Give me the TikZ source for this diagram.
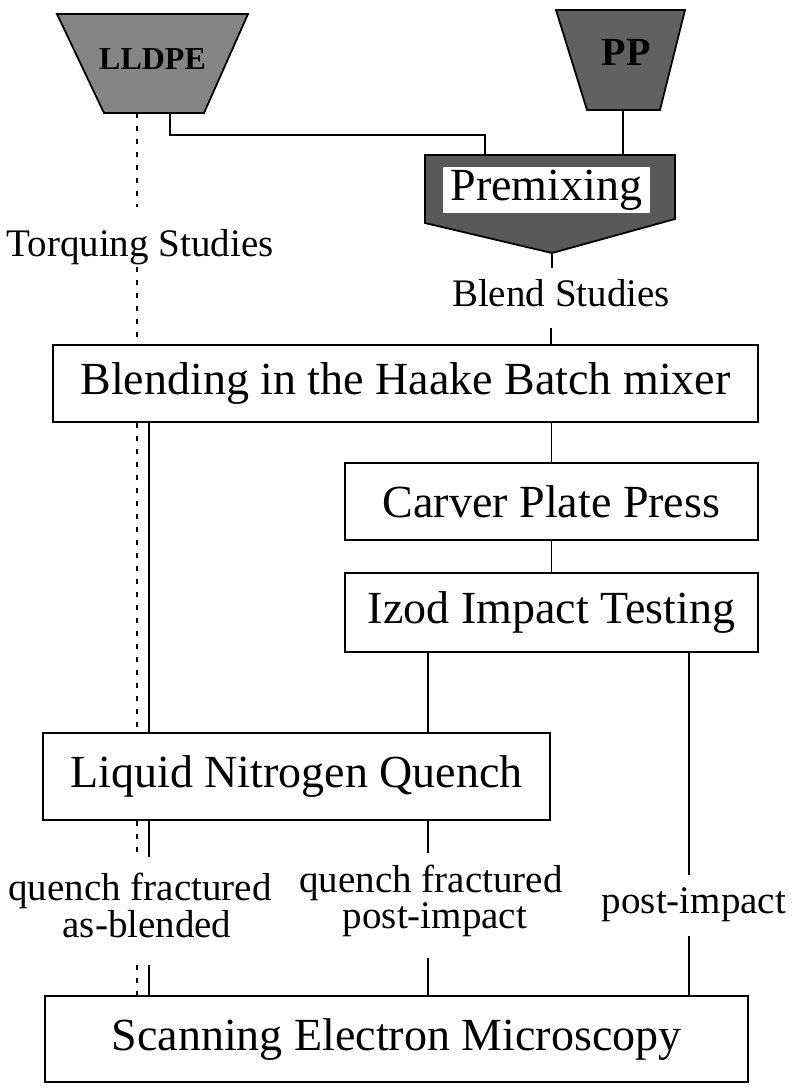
\documentclass[tikz,border=0pt]{standalone}
\usepackage{fontspec}
\setmainfont{Liberation Serif}
\begin{document}
\begin{tikzpicture}[x=1pt,y=-1pt,
  box/.style={draw, line width=1.8pt, fill=white, inner sep=0pt, font=\fontsize{46}{50}\selectfont},
  lab/.style={anchor=base, inner sep=0pt, font=\fontsize{39}{42}\selectfont},
  conn/.style={line width=1.7pt},
  dashconn/.style={line width=1.8pt, dash pattern=on 5pt off 8pt},
  hopper/.style={draw, line width=1.8pt, line join=miter}]
\useasboundingbox (0,0) rectangle (795,1088);
% feed hoppers
\path[hopper, fill=black!48] (57,14) -- (248,14) -- (204,113) -- (104,113) -- cycle;
\node[anchor=base, inner sep=0pt, font=\bfseries\fontsize{32}{34}\selectfont] (lldpe) at (152.5,69) {LLDPE};
\path[hopper, fill=black!62] (556,10) -- (685,10) -- (660,110) -- (587,110) -- cycle;
\node[anchor=base, inner sep=0pt, font=\bfseries\fontsize{40}{42}\selectfont] (pp) at (626,65) {PP};
% premixing
\path[hopper, fill=black!65] (425,155) -- (675,155) -- (675,219) -- (552,253) -- (425,223) -- cycle;
\node[fill=white, inner sep=0pt, minimum width=207pt, minimum height=46pt, font=\fontsize{46}{50}\selectfont] (premix) at (546.5,190) {Premixing};
% labels
\node[lab] (torq) at (140,256) {Torquing Studies};
\node[lab] (bstud) at (561,306) {Blend Studies};
\node[lab] (qf1) at (140,900) {quench fractured};
\node[lab] (asb) at (147,937) {as-blended};
\node[lab] (qf2) at (431,892) {quench fractured};
\node[lab] (pi2) at (435,928) {post-impact};
\node[lab] (pi3) at (694,913) {post-impact};
% boxes
\node[box, minimum width=705pt, minimum height=77pt] (blend) at (405.5,383.5) {Blending in the Haake Batch mixer};
\node[box, minimum width=413pt, minimum height=77pt] (carver) at (551.5,501.5) {Carver Plate Press};
\node[box, minimum width=413pt, minimum height=79pt] (izod) at (551.5,612.5) {Izod Impact Testing};
\node[box, minimum width=507pt, minimum height=87pt] (lnq) at (296.5,776.5) {Liquid Nitrogen Quench};
\node[box, minimum width=703pt, minimum height=86pt] (sem) at (396.5,1039) {Scanning Electron Microscopy};
% connector end points
\coordinate (lldpeout) at (170,113);
\coordinate (pmin1) at (485,155);
\coordinate (ppout) at (623,110);
\coordinate (pmin2) at (623,155);
\coordinate (pmtip) at (552,253);
\coordinate (pmtipend) at (552,268);
\coordinate (bsin) at (551,328);
\coordinate (s1) at (149,857);
\coordinate (s2) at (149,965);
\coordinate (m1) at (428,853);
\coordinate (m2) at (428,958);
\coordinate (r1) at (689,875);
\coordinate (r2) at (689,936);
\coordinate (d0) at (137,113);
\coordinate (d1) at (137,207);
\coordinate (d2) at (137,267);
\coordinate (d3) at (137,855);
\coordinate (d4) at (137,965);
% connectors
\draw[conn] (lldpeout) -- ++(0,22) -| (pmin1);
\draw[conn] (ppout) -- (pmin2);
\draw[conn] (pmtip) -- (pmtipend);
\draw[conn] (bsin) -- (bsin |- blend.north);
\draw[conn] (blend.south -| carver.north) -- (carver.north);
\draw[conn] (carver.south) -- (izod.north);
\draw[conn] (izod.south -| m1) -- (lnq.north -| m1);
\draw[conn] (lnq.south -| m1) -- (m1);
\draw[conn] (m2) -- (sem.north -| m2);
\draw[conn] (izod.south -| r1) -- (r1);
\draw[conn] (r2) -- (sem.north -| r2);
\draw[conn] (blend.south -| s1) -- (lnq.north -| s1);
\draw[conn] (lnq.south -| s1) -- (s1);
\draw[conn] (s2) -- (sem.north -| s2);
\draw[dashconn] (d0) -- (d1);
\draw[dashconn] (d2) -- (blend.north -| d2);
\draw[dashconn] (blend.south -| d2) -- (lnq.north -| d2);
\draw[dashconn] (lnq.south -| d2) -- (d3);
\draw[dashconn] (d4) -- (sem.north -| d4);
\end{tikzpicture}
\end{document}
